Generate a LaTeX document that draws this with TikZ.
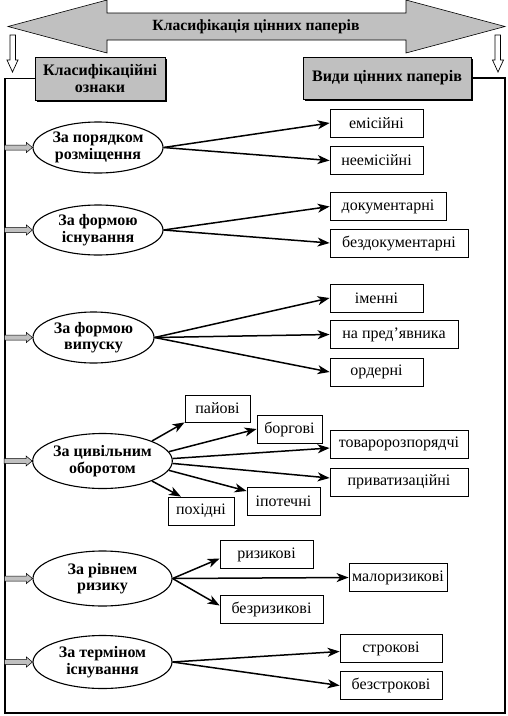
\documentclass[tikz,border=0pt]{standalone}
\usepackage{fontspec}
\setmainfont{Liberation Serif}
\usetikzlibrary{shapes.geometric,arrows.meta,shadows,calc}
\definecolor{silv}{HTML}{C0C0C0}
\tikzset{
  every node/.style={font=\fontsize{16}{17}\selectfont},
  valbox/.style={draw, line width=0.8pt, minimum height=28pt, inner sep=0pt},
  graybox/.style={draw, line width=0.8pt, fill=silv, inner sep=0pt, align=center,
     font=\fontsize{16}{17}\selectfont\bfseries,
     drop shadow={shadow xshift=1.6pt, shadow yshift=-1.6pt, fill=black, opacity=1}},
  crit/.style={ellipse, draw, line width=1.1pt, inner sep=0pt, align=center,
     font=\fontsize{16}{16.5}\selectfont\bfseries},
  conn/.style={line width=1.5pt, -{Stealth[length=12pt, width=9pt, inset=3.5pt]}},
  frame/.style={line width=1.8pt},
  garrowst/.style={fill=silv, draw, line width=0.5pt},
  harrow/.style={fill=white, draw, line width=0.7pt}
}
\newcommand\grayarr[1]{\draw[garrowst] ([shift={(-28,-2.5)}]#1.west) -- ++(22,0) -- ++(0,-2.5) -- (#1.west) -- ++(-6,5) -- ++(0,-2.5) -- ++(-22,0) -- cycle;}
\begin{document}
\begin{tikzpicture}[x=1pt,y=-1pt]
\useasboundingbox (0,0) rectangle (507,716);
% top double arrow
\draw[fill=silv, line width=0.6pt] (8,26.5) -- (107,0) -- (107,13) -- (406,13) -- (406,0) -- (505,26.5) -- (406,53) -- (406,40) -- (107,40) -- (107,53) -- cycle;
\node[font=\fontsize{15.6}{16}\selectfont\bfseries] (title) at (256,27) {Класифікація цінних паперів};
% small down arrows
\draw[harrow] (10,35) -- (15.5,35) -- (15.5,60) -- (18,60) -- (12.5,72) -- (7,60) -- (10,60) -- cycle;
\draw[harrow] (495,35) -- (500.5,35) -- (500.5,60) -- (503.5,60) -- (498,72) -- (492.5,60) -- (495,60) -- cycle;
% header boxes
\node[graybox, minimum width=130pt, minimum height=43pt] (lbox) at (100,78.5) {Класифікаційні\\ознаки};
\node[graybox, minimum width=168pt, minimum height=42pt] (rbox) at (387,78) {Види цінних паперів};
% frame
\coordinate (fbl) at (5,713);
\coordinate (fbr) at (505,713);
\draw[frame] (lbox.west) -| (fbl) -- (fbr) |- (rbox.east);
% criteria ellipses
\node[crit, minimum width=130pt, minimum height=51pt] (e1) at (98,147.5) {За порядком\\розміщення};
\node[crit, minimum width=130pt, minimum height=50pt] (e2) at (98,230) {За формою\\існування};
\node[crit, minimum width=121pt, minimum height=51pt] (e3) at (93.5,337.5) {За формою\\випуску};
\node[crit, minimum width=139pt, minimum height=55pt] (e4) at (102.5,461) {За цивільним\\оборотом};
\node[crit, minimum width=139pt, minimum height=55pt] (e5) at (102.5,578.5) {За рівнем\\ризику};
\node[crit, minimum width=139pt, minimum height=53pt] (e6) at (102.5,662) {За терміном\\існування};
\foreach \e in {e1,e2,e3,e4,e5,e6} {\grayarr{\e}}
% value boxes
\node[valbox, minimum width=93pt] (em) at (376.5,123) {емісійні};
\node[valbox, minimum width=93pt] (neem) at (376.5,160.5) {неемісійні};
\node[valbox, minimum width=116pt] (dok) at (388,206.5) {документарні};
\node[valbox, minimum width=138pt] (bdok) at (399,243) {бездокументарні};
\node[valbox, minimum width=93pt] (imen) at (376.5,298) {іменні};
\node[valbox, minimum width=128pt] (pred) at (394,334.5) {на пред’явника};
\node[valbox, minimum width=93pt] (ord) at (376.5,372) {ордерні};
\node[valbox, minimum width=65pt, minimum height=27pt] (pay) at (217.5,408.5) {пайові};
\node[valbox, minimum width=65pt] (borg) at (289.5,429) {боргові};
\node[valbox, minimum width=138pt] (tov) at (399,444) {товаророзпорядчі};
\node[valbox, minimum width=138pt] (priv) at (399,482) {приватизаційні};
\node[valbox, minimum width=73pt] (ipo) at (283.5,501) {іпотечні};
\node[valbox, minimum width=66pt] (pox) at (201,511) {похідні};
\node[valbox, minimum width=93pt] (riz) at (266.5,554.5) {ризикові};
\node[valbox, minimum width=98pt] (malo) at (398,577.5) {малоризикові};
\node[valbox, minimum width=103pt] (briz) at (271.5,609.5) {безризикові};
\node[valbox, minimum width=102pt] (strok) at (391,648.5) {строкові};
\node[valbox, minimum width=102pt] (bstrok) at (391,685.5) {безстрокові};
% connectors
\draw[conn] (e1.east) -- (em.west);
\draw[conn] (e1.east) -- (neem.west);
\draw[conn] (e2.east) -- (dok.west);
\draw[conn] (e2.east) -- (bdok.west);
\draw[conn] (e3.east) -- (imen.west);
\draw[conn] (e3.east) -- (pred.west);
\draw[conn] (e3.east) -- (ord.west);
\draw[conn] (e4.22) -- (pay.south west);
\draw[conn] (e4.8) -- (borg.west);
\draw[conn] (e4.2) -- ([yshift=-4pt]tov.west);
\draw[conn] (e4.-2) -- ([yshift=4pt]priv.west);
\draw[conn] (e4.-8) -- ([yshift=10pt]ipo.west);
\draw[conn] (e4.-22) -- ($(pox.north west)!0.2!(pox.north east)$);
\draw[conn] (e5.east) -- ([yshift=-4pt]riz.west);
\draw[conn] (e5.east) -- (malo.west);
\draw[conn] (e5.east) -- ([yshift=4pt]briz.west);
\draw[conn] (e6.east) -- ([yshift=-3pt]strok.west);
\draw[conn] (e6.east) -- (bstrok.west);
\end{tikzpicture}
\end{document}
